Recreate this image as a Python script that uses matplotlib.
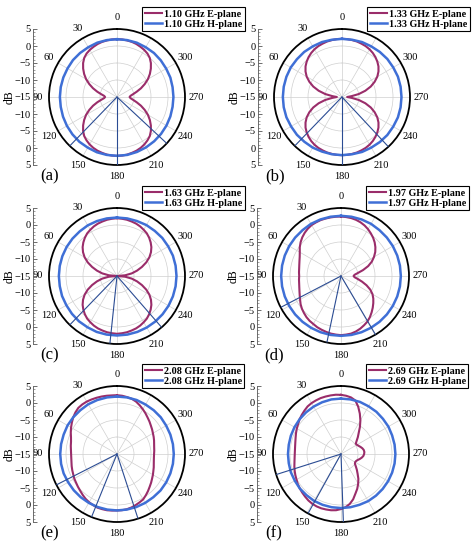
import numpy as np
import matplotlib
matplotlib.use('Agg')
import matplotlib.pyplot as plt

W, H, DPI = 472, 550, 100
SERIF = ['Liberation Serif', 'DejaVu Serif']
plt.rcParams['font.family'] = SERIF
plt.rcParams['axes.unicode_minus'] = True

# ---------------- data ----------------
# E-plane angles (deg, every 5), H-plane angles (deg, every 10)
angles_e = list(range(0, 360, 5))
angles_h = list(range(0, 360, 10))

freq_labels = ['1.10', '1.33', '1.63', '1.97', '2.08', '2.69']
panel_labels = ['(a)', '(b)', '(c)', '(d)', '(e)', '(f)']

e_110 = [2.0, 2.0, 1.9, 1.8, 1.6, 1.3, 1.0, 0.6, 0.0, -0.9, -2.0, -3.2, -4.5, -6.0, -7.5, -9.0, -10.3, -11.2,
         -11.5, -11.2, -10.3, -9.0, -7.5, -6.0, -4.5, -3.2, -2.0, -0.9, 0.0, 0.6, 1.1, 1.5, 1.8, 2.0, 2.2, 2.3,
         2.3, 2.3, 2.2, 2.0, 1.8, 1.5, 1.1, 0.6, 0.0, -0.9, -2.0, -3.2, -4.5, -6.0, -7.5, -9.0, -10.2, -11.0,
         -11.3, -11.0, -10.2, -9.0, -7.5, -6.0, -4.5, -3.2, -2.0, -0.9, 0.0, 0.6, 1.0, 1.3, 1.6, 1.8, 1.9, 2.0]
h_110 = [2.0, 2.0, 2.0, 1.9, 1.9, 1.9, 1.8, 1.8, 1.8, 1.8, 1.8, 1.9, 2.0, 2.1, 2.2, 2.2, 2.3, 2.3,
         2.3, 2.3, 2.2, 2.1, 2.0, 1.9, 1.8, 1.7, 1.6, 1.6, 1.6, 1.7, 1.7, 1.8, 1.9, 1.9, 2.0, 2.0]

e_133 = [2.1, 2.1, 2.0, 1.9, 1.7, 1.5, 1.2, 0.8, 0.3, -0.3, -1.0, -1.9, -3.0, -4.4, -6.0, -7.9, -10.0, -12.2,
         -13.5, -12.2, -10.0, -7.9, -6.0, -4.4, -3.0, -1.9, -1.0, -0.3, 0.3, 0.8, 1.2, 1.5, 1.7, 1.9, 2.0, 2.1,
         2.1, 2.1, 2.0, 1.9, 1.7, 1.5, 1.2, 0.8, 0.3, -0.3, -1.0, -1.9, -3.0, -4.4, -6.0, -7.9, -10.0, -12.2,
         -13.5, -12.2, -10.0, -7.9, -6.0, -4.4, -3.0, -1.9, -1.0, -0.3, 0.3, 0.8, 1.2, 1.5, 1.7, 1.9, 2.0, 2.1]
h_133 = [2.1, 2.1, 2.2, 2.2, 2.3, 2.3, 2.4, 2.4, 2.4, 2.4, 2.4, 2.4, 2.3, 2.3, 2.2, 2.2, 2.1, 2.1,
         2.1, 2.1, 2.2, 2.2, 2.3, 2.4, 2.4, 2.5, 2.5, 2.5, 2.5, 2.5, 2.4, 2.4, 2.3, 2.2, 2.2, 2.1]

e_163 = [2.0, 1.9, 1.8, 1.6, 1.4, 1.1, 0.7, 0.3, -0.3, -1.0, -1.8, -2.8, -4.0, -5.5, -7.2, -8.9, -10.6, -12.6,
         -15.0, -12.6, -10.6, -8.9, -7.2, -5.5, -4.0, -2.8, -1.8, -1.0, -0.3, 0.3, 0.7, 1.1, 1.4, 1.6, 1.8, 1.9,
         2.0, 1.9, 1.8, 1.6, 1.4, 1.1, 0.7, 0.3, -0.3, -1.0, -1.8, -2.8, -4.0, -5.5, -7.2, -8.9, -10.6, -12.6,
         -15.0, -12.6, -10.6, -8.9, -7.2, -5.5, -4.0, -2.8, -1.8, -1.0, -0.3, 0.3, 0.7, 1.1, 1.4, 1.6, 1.8, 1.9]
h_163 = [2.2, 2.2, 2.2, 2.2, 2.1, 2.1, 2.1, 2.1, 2.1, 2.1, 2.1, 2.2, 2.2, 2.3, 2.4, 2.4, 2.5, 2.5,
         2.5, 2.5, 2.5, 2.5, 2.5, 2.5, 2.5, 2.5, 2.5, 2.5, 2.5, 2.5, 2.4, 2.4, 2.3, 2.3, 2.2, 2.2]

e_197 = [2.5, 2.5, 2.5, 2.5, 2.5, 2.4, 2.3, 2.0, 1.6, 1.1, 0.5, -0.2, -1.0, -1.6, -2.0, -2.3, -2.5, -2.6,
         -2.7, -2.6, -2.5, -2.3, -2.0, -1.6, -1.1, -0.5, 0.0, 0.4, 0.8, 1.1, 1.3, 1.6, 1.8, 2.0, 2.2, 2.3,
         2.4, 2.3, 2.2, 1.9, 1.5, 1.0, 0.5, -0.2, -1.0, -1.8, -2.6, -3.4, -4.3, -5.5, -7.0, -8.6, -10.0, -11.0,
         -11.3, -11.0, -10.0, -8.3, -6.5, -5.0, -3.8, -2.7, -1.8, -1.0, -0.3, 0.3, 0.9, 1.4, 1.8, 2.1, 2.3, 2.4]
h_197 = [2.7, 2.7, 2.7, 2.7, 2.6, 2.6, 2.6, 2.6, 2.6, 2.6, 2.6, 2.6, 2.6, 2.6, 2.6, 2.6, 2.6, 2.6,
         2.6, 2.6, 2.6, 2.6, 2.6, 2.6, 2.6, 2.6, 2.6, 2.6, 2.6, 2.6, 2.6, 2.6, 2.6, 2.7, 2.7, 2.7]

e_208 = [2.3, 2.3, 2.4, 2.5, 2.6, 2.7, 2.8, 2.8, 2.7, 2.3, 1.8, 1.2, 0.6, 0.0, -0.6, -1.0, -1.2, -1.4,
         -1.5, -1.5, -1.4, -1.2, -1.0, -0.8, -0.5, -0.3, 0.0, 0.3, 0.7, 1.1, 1.4, 1.6, 1.8, 1.8, 1.8, 1.7,
         1.6, 1.6, 1.5, 1.3, 1.0, 0.7, 0.4, -0.2, -0.8, -1.4, -1.9, -2.4, -2.8, -3.2, -3.5, -3.8, -4.0, -4.1,
         -4.1, -4.0, -3.9, -3.7, -3.4, -3.1, -2.8, -2.4, -2.0, -1.5, -1.0, -0.4, 0.2, 0.8, 1.4, 1.8, 2.0, 2.2]
h_208 = [1.9, 1.9, 1.9, 1.9, 1.8, 1.8, 1.8, 1.7, 1.7, 1.7, 1.7, 1.7, 1.6, 1.6, 1.6, 1.6, 1.6, 1.6,
         1.6, 1.6, 1.6, 1.6, 1.6, 1.7, 1.7, 1.7, 1.7, 1.7, 1.7, 1.7, 1.7, 1.8, 1.8, 1.8, 1.9, 1.9]

e_269 = [2.4, 2.5, 2.5, 2.5, 2.5, 2.4, 2.3, 2.1, 1.7, 1.3, 0.9, 0.4, 0.0, -0.4, -0.8, -1.1, -1.3, -1.4,
         -1.4, -1.3, -1.1, -0.8, -0.5, -0.2, 0.1, 0.5, 0.8, 1.1, 1.4, 1.7, 1.9, 2.0, 2.0, 1.9, 1.8, 1.6,
         1.2, 0.7, -0.1, -1.2, -2.6, -3.7, -4.9, -6.1, -7.4, -8.4, -9.3, -10.0, -10.2, -10.1, -9.8, -9.3, -8.8, -8.4,
         -8.2, -8.1, -8.2, -8.5, -8.9, -9.3, -9.6, -9.7, -9.0, -8.0, -6.9, -5.3, -3.6, -1.9, -0.2, 1.3, 1.9, 2.2]
h_269 = [1.3, 1.3, 1.2, 1.1, 1.0, 0.9, 0.8, 0.7, 0.6, 0.6, 0.6, 0.7, 0.7, 0.8, 0.8, 0.9, 0.9, 0.9,
         0.9, 0.9, 0.9, 1.0, 1.0, 1.0, 1.0, 1.0, 1.0, 1.0, 1.0, 1.0, 1.1, 1.1, 1.2, 1.2, 1.3, 1.3]

spokes_110 = [136, 180, 227]
spokes_133 = [136, 180, 223]
spokes_163 = [136, 174, 221]
spokes_197 = [117.5, 168, 210.5]
spokes_208 = [117, 158, 198]
spokes_269 = [107.6, 151, 182]

db_tick_values = [-20, -15, -10, -5, 0, 5, 10, 15, 20]
db_tick_labels = ['5', '0', '\u22125', '\u221210', '\u221215', '\u221210', '\u22125', '0', '5']
theta_ticks = [0, 30, 60, 90, 120, 150, 180, 210, 240, 270, 300, 330]

e_series = [e_110, e_133, e_163, e_197, e_208, e_269]
h_series = [h_110, h_133, h_163, h_197, h_208, h_269]
spoke_series = [spokes_110, spokes_133, spokes_163, spokes_197, spokes_208, spokes_269]

# ---------------- layout / style ----------------
centers = [(117, 97), (342, 97), (117, 276), (341, 276), (117, 454), (341, 454)]
R = 68
E_COLOR = '#9A2D6A'
H_COLOR = '#3F6FD6'
SPOKE_COLOR = '#2B4C93'

fig = plt.figure(figsize=(W / DPI, H / DPI), dpi=DPI)
fig.patch.set_facecolor('white')

for i in range(6):
    cx, cy = centers[i]
    ax = fig.add_axes([(cx - R) / W, (H - cy - R) / H, 2 * R / W, 2 * R / H], projection='polar')
    ax.set_theta_zero_location('N')
    ax.set_theta_direction(1)
    th_e = np.deg2rad(angles_e + [angles_e[0]])
    th_h = np.deg2rad(angles_h + [angles_h[0]])
    e = e_series[i] + [e_series[i][0]]
    h = h_series[i] + [h_series[i][0]]
    ax.plot(th_e, e, color=E_COLOR, lw=1.5, label=f'{freq_labels[i]} GHz E-plane', zorder=3)
    ax.plot(th_h, h, color=H_COLOR, lw=1.8, label=f'{freq_labels[i]} GHz H-plane', zorder=4)
    for s in spoke_series[i]:
        ax.plot([np.deg2rad(s)] * 2, [-15, 5], color=SPOKE_COLOR, lw=0.8, zorder=5)
    ax.set_ylim(-15, 5)
    ax.set_rticks([-10, -5, 0])
    ax.set_yticklabels([])
    ax.set_thetagrids(theta_ticks, labels=[str(t) for t in theta_ticks])
    ax.tick_params(axis='x', labelsize=7.5, pad=-2.5)
    ax.grid(True, color='#cfcfcf', lw=0.5)
    ax.spines['polar'].set_linewidth(1.3)
    ax.spines['polar'].set_color('black')

    leg = ax.legend(loc='upper left', bbox_to_anchor=((cx + 25) / W, 1 - (cy - 90) / H),
                    bbox_transform=fig.transFigure, prop={'family': SERIF, 'weight': 'bold', 'size': 7.3},
                    frameon=True, fancybox=False, edgecolor='black', framealpha=1,
                    borderpad=0.25, handlelength=1.7, handletextpad=0.2, labelspacing=0.1,
                    borderaxespad=0)
    leg.get_frame().set_linewidth(0.8)

    # dB scale axis
    ay = fig.add_axes([(cx - 84) / W, (H - cy - R) / H, 0.0005, 2 * R / H])
    for sp in ['top', 'right', 'bottom']:
        ay.spines[sp].set_visible(False)
    ay.spines['left'].set_linewidth(0.6)
    ay.spines['left'].set_color('#555555')
    ay.set_ylim(-20, 20)
    ay.set_xticks([])
    ay.set_yticks(db_tick_values)
    ay.set_yticklabels(db_tick_labels)
    ay.set_yticks(np.arange(-20, 21, 1), minor=True)
    ay.tick_params(axis='y', which='major', direction='in', length=3, width=0.6, labelsize=7.5, pad=1.5,
                   color='#555555')
    ay.tick_params(axis='y', which='minor', direction='in', length=1.5, width=0.4, color='#555555')
    ay.patch.set_visible(False)

    fig.text((cx - 107) / W, 1 - cy / H, 'dB', rotation=90, ha='center', va='center', fontsize=8.5)
    fig.text((cx - 67) / W, 1 - (cy + 79) / H, panel_labels[i], ha='center', va='center', fontsize=12)

fig.savefig('out.png', dpi=DPI, facecolor='white')
